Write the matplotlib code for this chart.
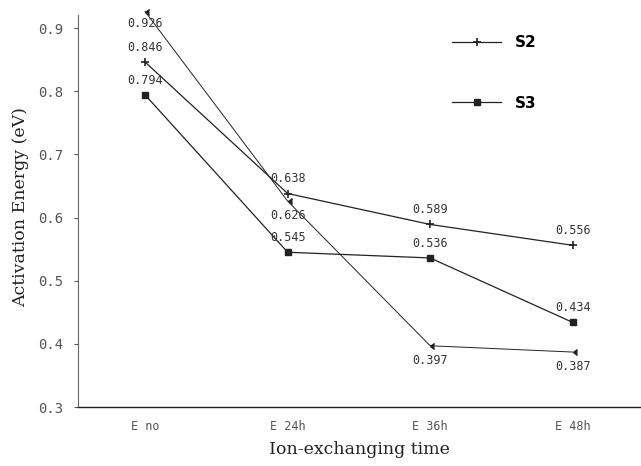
import matplotlib
matplotlib.use("Agg")
import matplotlib.pyplot as plt

# Data
categories = ["E no", "E 24h", "E 36h", "E 48h"]
s1_values = [0.926, 0.626, 0.397, 0.387]
s2_values = [0.846, 0.638, 0.589, 0.556]
s3_values = [0.794, 0.545, 0.536, 0.434]
y_ticks = [0.3, 0.4, 0.5, 0.6, 0.7, 0.8, 0.9]

fig = plt.figure(figsize=(6.41, 4.66), dpi=100)
ax = fig.add_axes([0.122, 0.1266, 0.878, 0.858])

x = list(range(len(categories)))
ink = "#222222"

ax.plot(x, s1_values, color=ink, lw=0.7, marker=4, ms=4, clip_on=False)
ax.plot(x, s2_values, color=ink, lw=0.9, marker="+", ms=6, mew=1.2,
        clip_on=False, label="S2")
ax.plot(x, s3_values, color=ink, lw=0.9, marker="s", ms=5, clip_on=False,
        label="S3")

lbl = dict(fontsize=8.5, family="DejaVu Sans Mono", color="#333333",
           ha="center")
# value labels: above for the upper two series, below for the first one
for xi, v in zip(x, s2_values):
    ax.annotate(f"{v:.3f}", (xi, v), xytext=(0, 6), textcoords="offset points",
                va="bottom", **lbl)
for xi, v in zip(x, s3_values):
    ax.annotate(f"{v:.3f}", (xi, v), xytext=(0, 6), textcoords="offset points",
                va="bottom", **lbl)
s1_offsets = [(0, -4), (0, -6), (0, -6), (0, -6)]
for xi, v, off in zip(x, s1_values, s1_offsets):
    ax.annotate(f"{v:.3f}", (xi, v), xytext=off, textcoords="offset points",
                va="top", **lbl)

ax.set_xlim(-0.47, 3.48)
ax.set_ylim(0.3, 0.933)
ax.set_xticks(x)
ax.set_xticklabels(categories, fontsize=8.5, color="#555555",
                   family="DejaVu Sans Mono")
ax.set_yticks(y_ticks)
ax.set_yticklabels([f"{t:.1f}" for t in y_ticks], fontsize=10,
                   color="#555555", family="DejaVu Sans Mono")
ax.tick_params(axis="x", length=0, pad=9)
ax.tick_params(axis="y", length=3, width=0.8, color="#555555", pad=8)

for side in ("top", "right"):
    ax.spines[side].set_visible(False)
ax.spines["left"].set_color("#666666")
ax.spines["left"].set_linewidth(0.8)
ax.spines["left"].set_bounds(0.3, 0.92)
ax.spines["bottom"].set_color("#222222")
ax.spines["bottom"].set_linewidth(1.0)

ax.set_xlabel("Ion-exchanging time", family="DejaVu Serif", fontsize=12.5,
              color="#222222", labelpad=6)
ax.set_ylabel("Activation Energy (eV)", family="DejaVu Serif", fontsize=12.5,
              color="#222222", labelpad=6)

leg = ax.legend(loc="upper left", bbox_to_anchor=(0.64, 0.965), frameon=False,
                handlelength=3.2, labelspacing=3.0, handletextpad=0.9,
                prop={"family": "DejaVu Sans", "weight": "bold", "size": 11})

fig.savefig("out.png", dpi=100, facecolor="white")
